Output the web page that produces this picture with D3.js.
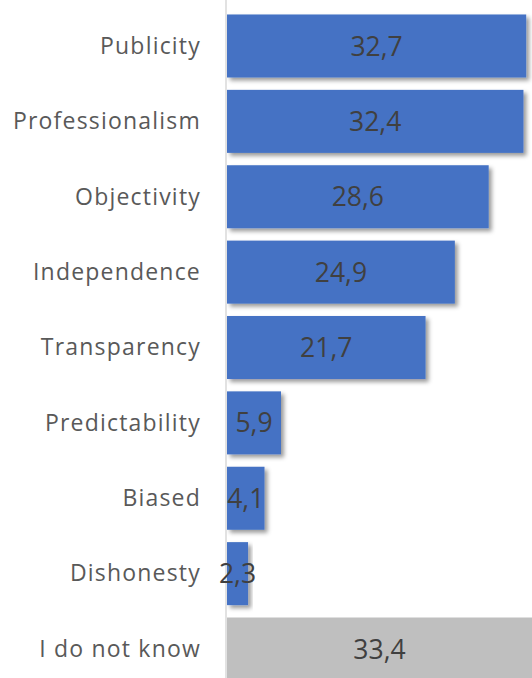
<!DOCTYPE html>
<html>
<head>
<meta charset="utf-8">
<script src="https://cdn.jsdelivr.net/npm/d3@7"></script>
<style>
  html, body { margin: 0; padding: 0; background: #fff; }
  svg { display: block; }
</style>
</head>
<body>
<div id="chart"></div>
<script>
// Survey answers and their shares (percent)
const categories = ["Publicity", "Professionalism", "Objectivity", "Independence", "Transparency",
                    "Predictability", "Biased", "Dishonesty", "I do not know"];
const values = [32.7, 32.4, 28.6, 24.9, 21.7, 5.9, 4.1, 2.3, 33.4];
const valueLabels = ["32,7", "32,4", "28,6", "24,9", "21,7", "5,9", "4,1", "2,3", "33,4"];
const neutralCategory = "I do not know";

const W = 532, H = 678;
const font = "'Open Sans', sans-serif";

const svg = d3.select("#chart").append("svg")
  .attr("width", W).attr("height", H);

const defs = svg.append("defs");
const shadow = defs.append("filter").attr("id", "barShadow")
  .attr("x", "-10%").attr("y", "-10%").attr("width", "130%").attr("height", "140%");
shadow.append("feDropShadow")
  .attr("dx", 3).attr("dy", 3).attr("stdDeviation", 2)
  .attr("flood-color", "#000").attr("flood-opacity", 0.4);

const x = d3.scaleLinear().domain([0, 35]).range([227, 227 + 35 * 9.15]);
const y = d3.scaleBand().domain(categories).range([8.3, 686.7])
  .paddingInner(0.164).paddingOuter(0.082);

const data = categories.map((c, i) => ({ cat: c, v: values[i], label: valueLabels[i] }));

// bars
svg.append("g").selectAll("rect").data(data).join("rect")
  .attr("x", x(0))
  .attr("y", d => y(d.cat))
  .attr("width", d => x(d.v) - x(0))
  .attr("height", y.bandwidth())
  .attr("fill", d => d.cat === neutralCategory ? "#bfbfbf" : "#4472c4")
  .attr("filter", d => d.cat === neutralCategory ? null : "url(#barShadow)");

// category axis
const axis = svg.append("g").attr("transform", `translate(${x(0) - 1},0)`)
  .call(d3.axisLeft(y).tickSize(0).tickPadding(25));
axis.select(".domain").attr("d", `M0,0V${H}`).attr("stroke", "#d9d9d9").attr("stroke-width", 1.5);
axis.selectAll("text")
  .attr("fill", "#595959")
  .attr("dy", "0.34em")
  .style("font-family", font)
  .style("font-size", "23px")
  .style("letter-spacing", "1.2px");

// value labels centred in bars
svg.append("g").selectAll("text").data(data).join("text")
  .attr("x", d => (x(0) + Math.min(x(d.v), W)) / 2)
  .attr("y", d => y(d.cat) + y.bandwidth() / 2)
  .attr("dy", "0.36em")
  .attr("text-anchor", "middle")
  .attr("fill", "#404040")
  .style("font-family", font)
  .style("font-size", "26.5px")
  .text(d => d.label);
</script>
</body>
</html>
